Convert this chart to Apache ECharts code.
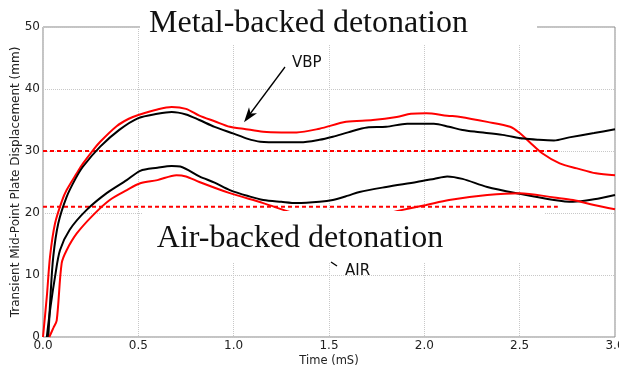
<!DOCTYPE html>
<html>
<head>
<meta charset="utf-8" />
<script src="https://cdn.jsdelivr.net/npm/echarts@6/dist/echarts.min.js"></script>
<style>
  html, body { margin: 0; padding: 0; background: #fff; }
  #chart { width: 619px; height: 368px; }
</style>
</head>
<body>
<div id="chart"></div>
<script>
const xTicks = [0, 0.5, 1.0, 1.5, 2.0, 2.5, 3.0];
const yTicks = [0, 10, 20, 30, 40, 50];

// metal-backed, red trace
const metalRedT = [0, 0.02, 0.037, 0.063, 0.1, 0.124, 0.177, 0.21, 0.264, 0.3, 0.386, 0.45, 0.5, 0.6, 0.675, 0.75, 0.82, 0.9, 0.98, 1.05, 1.155, 1.25, 1.33, 1.45, 1.59, 1.73, 1.855, 1.93, 2.01, 2.12, 2.19, 2.33, 2.45, 2.5, 2.55, 2.62, 2.71, 2.8, 2.9, 3.0];
const metalRedV = [0, 6.5, 13, 18.3, 22, 23.7, 26.4, 28.0, 30.2, 31.5, 34.0, 35.2, 35.8, 36.7, 37.1, 36.8, 35.7, 34.8, 33.9, 33.6, 33.1, 33.0, 33.0, 33.6, 34.7, 35.0, 35.5, 36.0, 36.1, 35.7, 35.5, 34.7, 33.9, 32.9, 31.5, 29.6, 28.0, 27.2, 26.4, 26.1];

// metal-backed, black trace
const metalBlackT = [0.028, 0.04, 0.054, 0.08, 0.124, 0.17, 0.21, 0.3, 0.4, 0.5, 0.6, 0.675, 0.75, 0.82, 0.9, 1.0, 1.07, 1.14, 1.25, 1.35, 1.45, 1.52, 1.6, 1.7, 1.8, 1.91, 2.05, 2.13, 2.2, 2.27, 2.41, 2.52, 2.6, 2.68, 2.76, 2.89, 3.0];
const metalBlackV = [0, 7, 13, 18.3, 22.6, 25.5, 27.5, 30.7, 33.4, 35.3, 36.0, 36.3, 35.9, 35.0, 33.9, 32.8, 32.0, 31.5, 31.4, 31.4, 31.8, 32.3, 33.0, 33.8, 33.9, 34.4, 34.4, 33.9, 33.4, 33.1, 32.6, 32.0, 31.8, 31.7, 32.2, 32.9, 33.5];

// air-backed, black trace
const airBlackT = [0.02, 0.04, 0.063, 0.089, 0.14, 0.229, 0.334, 0.439, 0.51, 0.6, 0.675, 0.72, 0.82, 0.9, 0.98, 1.08, 1.155, 1.25, 1.33, 1.45, 1.52, 1.6, 1.66, 1.8, 1.96, 2.05, 2.12, 2.2, 2.33, 2.5, 2.68, 2.78, 2.89, 3.0];
const airBlackV = [0, 5, 9.7, 14.0, 17.3, 20.5, 23.2, 25.3, 26.8, 27.3, 27.6, 27.5, 25.9, 24.9, 23.7, 22.7, 22.1, 21.8, 21.6, 21.8, 22.1, 22.8, 23.4, 24.2, 25.0, 25.5, 25.9, 25.5, 24.2, 23.1, 22.1, 21.8, 22.2, 22.9];

// air-backed, red trace (dips behind the label between ~1.3 and ~1.85)
const airRedT = [0.033, 0.055, 0.072, 0.098, 0.124, 0.177, 0.264, 0.35, 0.44, 0.51, 0.6, 0.7, 0.75, 0.82, 0.98, 1.155, 1.26, 1.31, 1.4, 1.55, 1.7, 1.855, 2.01, 2.13, 2.33, 2.5, 2.68, 2.78, 2.89, 3.0];
const airRedV = [0, 1.5, 2.7, 11.9, 14.0, 16.7, 19.7, 22.1, 23.7, 24.8, 25.3, 26.1, 25.9, 25.0, 23.2, 21.6, 20.5, 20.0, 19.2, 18.9, 19.2, 20.3, 21.3, 22.1, 22.9, 23.2, 22.5, 22.1, 21.3, 20.6];

// dashed reference levels
const refT = [0, 2.7];
const refMetal = [30, 30];
const refAir = [21, 21];

function pairs(t, v) {
  return t.map((x, i) => [x, v[i]]);
}

const chart = echarts.init(document.getElementById("chart"));

function curve(name, t, v, color) {
  return {
    name: name,
    type: "line",
    data: pairs(t, v),
    smooth: 0.3,
    symbol: "none",
    lineStyle: { color: color, width: 2 },
    z: 3
  };
}

function dashed(name, t, v) {
  return {
    name: name,
    type: "line",
    data: pairs(t, v),
    symbol: "none",
    lineStyle: { color: "#ff0000", width: 2, type: [4, 3] },
    z: 2
  };
}

const labelFont = "DejaVu Sans";

chart.setOption({
  animation: false,
  grid: {
    left: 43,
    right: 4,
    top: 27,
    bottom: 31,
    outerBoundsMode: "none",
    containLabel: false,
    show: true,
    borderColor: "#888",
    borderWidth: 1
  },
  xAxis: {
    type: "value",
    min: xTicks[0],
    max: xTicks[xTicks.length - 1],
    interval: 0.5,
    name: "Time (mS)",
    nameLocation: "middle",
    nameGap: 18,
    nameMoveOverlap: false,
    nameTextStyle: { fontFamily: labelFont, fontSize: 11.5, color: "#222" },
    axisLine: { show: false },
    axisTick: { show: false },
    axisLabel: {
      fontFamily: labelFont,
      fontSize: 12,
      color: "#222",
      margin: 3,
      formatter: v => v.toFixed(1)
    },
    splitLine: { show: true, lineStyle: { color: "#c8c8c8", type: "dotted", width: 1 } }
  },
  yAxis: {
    type: "value",
    min: yTicks[0],
    max: yTicks[yTicks.length - 1],
    interval: 10,
    name: "Transient Mid-Point Plate Displacement (mm)",
    nameLocation: "middle",
    nameGap: 21,
    nameMoveOverlap: false,
    nameTextStyle: { fontFamily: labelFont, fontSize: 12, color: "#222" },
    axisLine: { show: false },
    axisTick: { show: false },
    axisLabel: { fontFamily: labelFont, fontSize: 12, color: "#222", margin: 3 },
    splitLine: { show: true, lineStyle: { color: "#c8c8c8", type: "dotted", width: 1 } }
  },
  series: [
    dashed("ref metal", refT, refMetal),
    dashed("ref air", refT, refAir),
    curve("metal red", metalRedT, metalRedV, "#ff0000"),
    curve("metal black", metalBlackT, metalBlackV, "#000000"),
    curve("air black", airBlackT, airBlackV, "#000000"),
    curve("air red", airRedT, airRedV, "#ff0000")
  ],
  graphic: [
    // title boxes sit over the frame, like the pasted labels in the figure
    { type: "rect", z: 20, shape: { x: 140, y: 0, width: 397, height: 44 }, style: { fill: "#fff" } },
    {
      type: "text", z: 21, x: 308.5, y: 24,
      style: { text: "Metal-backed detonation", font: "32px 'Liberation Serif'", fill: "#111", align: "center", verticalAlign: "middle" }
    },
    { type: "rect", z: 20, shape: { x: 142, y: 211, width: 403, height: 51 }, style: { fill: "#fff" } },
    {
      type: "text", z: 21, x: 300, y: 239,
      style: { text: "Air-backed detonation", font: "32px 'Liberation Serif'", fill: "#111", align: "center", verticalAlign: "middle" }
    },
    {
      type: "text", z: 21, x: 292, y: 63,
      style: { text: "VBP", font: "15px 'DejaVu Sans'", fill: "#111", align: "left", verticalAlign: "middle" }
    },
    { type: "line", z: 21, shape: { x1: 285, y1: 67, x2: 250, y2: 114 }, style: { stroke: "#000", lineWidth: 1.3 } },
    {
      type: "polygon", z: 21,
      shape: { points: [[244, 122.3], [257, 113.3], [250.6, 113.5], [249, 107.3]] },
      style: { fill: "#000" }
    },
    {
      type: "text", z: 21, x: 345, y: 271,
      style: { text: "AIR", font: "15px 'DejaVu Sans'", fill: "#111", align: "left", verticalAlign: "middle" }
    },
    { type: "line", z: 21, shape: { x1: 331, y1: 262, x2: 337, y2: 266 }, style: { stroke: "#000", lineWidth: 1.3 } }
  ]
});
</script>
</body>
</html>
